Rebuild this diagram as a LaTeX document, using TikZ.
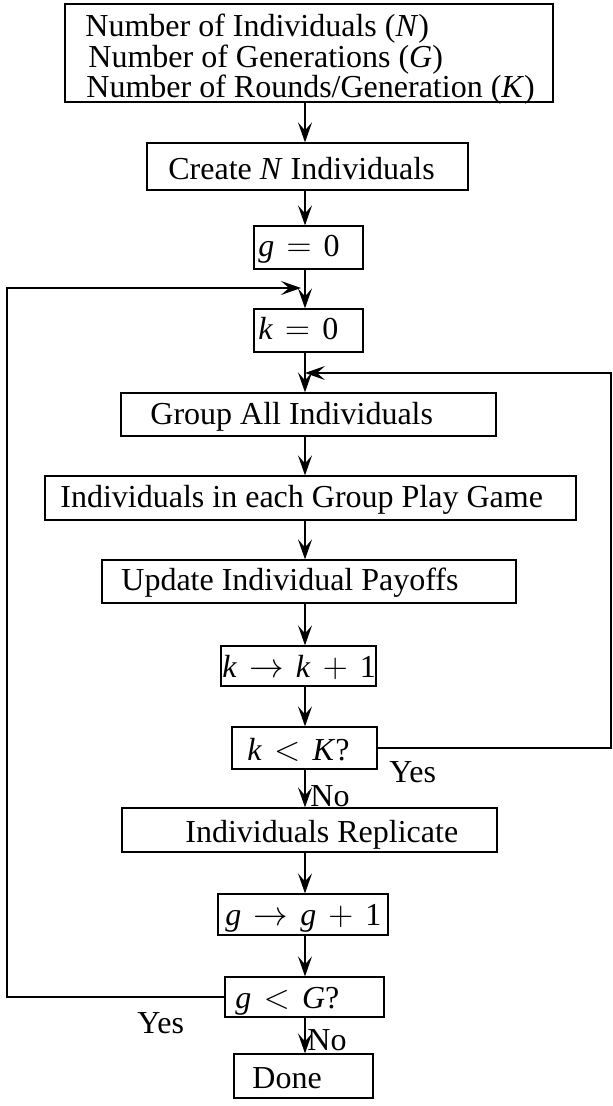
\documentclass[tikz,border=0pt]{standalone}
\usepackage{fontspec}
\setmainfont{Liberation Serif}
\usetikzlibrary{arrows.meta,fit}

\newcommand{\mv}[1]{\textit{#1}}
\newcommand{\op}[1]{\hspace{0.38em}#1\hspace{0.38em}}

\tikzset{
  box/.style = {rectangle, draw, line width=0.6pt, inner sep=0pt},
  txt/.style = {anchor=base west, inner sep=0pt,
    font=\fontsize{16pt}{16pt}\selectfont},
  arr/.style = {-{Stealth[length=10pt, width=7pt, inset=4pt]},
    line width=0.6pt}
}

\begin{document}
\begin{tikzpicture}[x=0.5pt, y=-0.5pt]
  \useasboundingbox (0,0) rectangle (612,1106);
  \coordinate (spine) at (305,0);
  \node[box, fit={(65,4) (553,102)}] (params) {};
  \node[txt] (params-a) at (85,37) {Number of Individuals (\mv{N})};
  \node[txt] (params-b) at (88,68) {Number of Generations (\mv{G})};
  \node[txt] (params-c) at (86,98) {Number of Rounds/Generation (\mv{K})};
  % one box per step: name/corners/text position/text
  \foreach \n/\xa/\ya/\xb/\yb/\tx/\ty/\t in {
      create/147/143/468/190/168/180/{Create \mv{N} Individuals},
      gzero/254/226/363/269/258/257/{\mv{g}\op{$=$}0},
      kzero/254/309/363/352/258/340/{\mv{k}\op{$=$}0},
      group/121/393/496/436/150/424/{Group All Individuals},
      play/45/476/576/520/60/507/{Individuals in each Group Play Game},
      update/102/560/516/603/121/590/{Update Individual Payoffs},
      kinc/221/646/376/686/222/677/{\mv{k}\op{$\rightarrow$}\mv{k}\op{$+$}1},
      kless/232/727/377/769/247/760/{\mv{k}\op{$<$}\mv{K}?},
      replic/122/808/497/852/185/842/{Individuals Replicate},
      ginc/218/894/388/935/225/925/{\mv{g}\op{$\rightarrow$}\mv{g}\op{$+$}1},
      gless/225/977/384/1017/235/1008/{\mv{g}\op{$<$}\mv{G}?},
      done/234/1054/373/1098/252/1088/{Done}}
  {
    \node[box, fit={(\xa,\ya) (\xb,\yb)}] (\n) {};
    \node[txt] (\n-t) at (\tx,\ty) {\t};
  }
  \foreach \a/\b in {params/create, create/gzero, gzero/kzero,
      kzero/group, group/play, play/update, update/kinc, kinc/kless,
      kless/replic, replic/ginc, ginc/gless, gless/done}
    \draw[arr] (\a.south -| spine) -- (\b.north -| spine);
  % loops back
  \coordinate (rcorner) at (611,373);
  \coordinate (lcorner) at (7,288);
  \coordinate (ljoin) at (301,288);
  \draw[arr] (kless.east) -| (rcorner) -- (rcorner -| spine);
  \draw[arr] (gless.west) -| (lcorner) -- (ljoin);
  \node[txt] (yes-k) at (389,782) {Yes};
  \node[txt] (no-k) at (310,806) {No};
  \node[txt] (yes-g) at (137,1033) {Yes};
  \node[txt] (no-g) at (307,1050) {No};
\end{tikzpicture}
\end{document}
